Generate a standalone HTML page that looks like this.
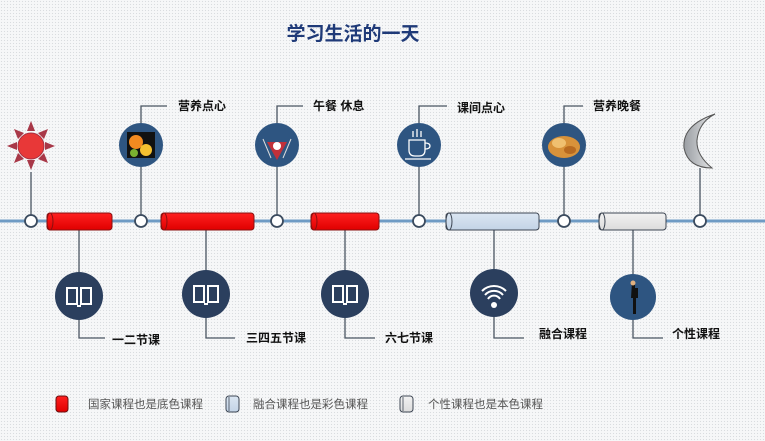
<!DOCTYPE html>
<html><head><meta charset="utf-8"><style>
html,body{margin:0;padding:0;}
body{width:765px;height:436px;overflow:hidden;background:#f6f7f8;
background-image:radial-gradient(#d9dcdf 0.6px,transparent 0.8px);background-size:3px 3px;}
text{font-family:"Liberation Sans","Noto Sans CJK SC",sans-serif;}
</style></head><body>
<svg width="765" height="436" viewBox="0 0 765 436" xmlns="http://www.w3.org/2000/svg">
<defs>
<linearGradient id="red" x1="0" y1="0" x2="0" y2="1"><stop offset="0" stop-color="#ff2020"/><stop offset="1" stop-color="#e00000"/></linearGradient>
<linearGradient id="blu" x1="0" y1="0" x2="0" y2="1"><stop offset="0" stop-color="#dbe6f2"/><stop offset="1" stop-color="#c3d3e6"/></linearGradient>
<linearGradient id="gry" x1="0" y1="0" x2="0" y2="1"><stop offset="0" stop-color="#f2f2f2"/><stop offset="1" stop-color="#dcdcdc"/></linearGradient>
<linearGradient id="moon" x1="0" y1="0" x2="1" y2="0"><stop offset="0" stop-color="#9a9ea3"/><stop offset="1" stop-color="#e8e9ea"/></linearGradient>
</defs>
<text x="353" y="40" text-anchor="middle" font-size="19" font-weight="bold" fill="#1f3a78">学习生活的一天</text>

<line x1="0" y1="221" x2="765" y2="221" stroke="#6f9bc4" stroke-width="3"/>

<g stroke="#4a5562" stroke-width="1.3" fill="none">
<line x1="31" y1="172" x2="31" y2="215"/>
<polyline points="141,167 141,215"/><polyline points="141,123 141,106 167,106"/>
<polyline points="277,167 277,215"/><polyline points="277,123 277,106 303,106"/>
<polyline points="419,167 419,215"/><polyline points="419,123 419,106 447,106"/>
<polyline points="564,167 564,215"/><polyline points="564,123 564,106 583,106"/>
<line x1="700" y1="168" x2="700" y2="215"/>
<polyline points="79,229 79,272"/><polyline points="79,320 79,338 105,338"/>
<polyline points="206,229 206,270"/><polyline points="206,318 206,338 235,338"/>
<polyline points="345,229 345,270"/><polyline points="345,318 345,338 375,338"/>
<polyline points="494,229 494,269"/><polyline points="494,317 494,338 524,338"/>
<polyline points="633,229 633,274"/><polyline points="633,320 633,338 663,338"/>
</g>

<g stroke="#8a1010" stroke-width="1">
<rect x="47" y="213" width="65" height="17" rx="3" fill="url(#red)"/>
<rect x="161" y="213" width="93" height="17" rx="3" fill="url(#red)"/>
<rect x="311" y="213" width="68" height="17" rx="3" fill="url(#red)"/>
</g>
<g fill="none" stroke="#8a1010"><ellipse cx="50" cy="221.5" rx="3" ry="8.5"/><ellipse cx="164" cy="221.5" rx="3" ry="8.5"/><ellipse cx="314" cy="221.5" rx="3" ry="8.5"/></g>
<g stroke="#3c4552" stroke-width="1">
<rect x="446" y="213" width="93" height="17" rx="3" fill="url(#blu)"/>
<rect x="599" y="213" width="67" height="17" rx="3" fill="url(#gry)"/>
</g>
<g fill="none" stroke="#3c4552"><ellipse cx="449" cy="221.5" rx="3" ry="8.5"/><ellipse cx="602" cy="221.5" rx="3" ry="8.5"/></g>

<g fill="#fff" stroke="#3a4a5e" stroke-width="1.8">
<circle cx="31" cy="221" r="6"/><circle cx="141" cy="221" r="6"/><circle cx="277" cy="221" r="6"/>
<circle cx="419" cy="221" r="6"/><circle cx="564" cy="221" r="6"/><circle cx="700" cy="221" r="6"/>
</g>

<g fill="#a83848">
<polygon points="31,121 35,131 27,131"/><polygon points="31,170 35,160 27,160"/>
<polygon points="7,146 17,142 17,150"/><polygon points="55,146 45,142 45,150"/>
<polygon points="14,129 24,133 18,139"/><polygon points="48,129 38,133 44,139"/>
<polygon points="14,163 24,159 18,153"/><polygon points="48,163 38,159 44,153"/>
</g>
<circle cx="31" cy="146" r="13" fill="#e83838" stroke="#a83040"/>

<path d="M715,114 Q682,125 684,148 Q688,168 712,168 Q696,155 697,140 Q699,122 715,114 Z" fill="url(#moon)" stroke="#555" stroke-width="1"/>

<g fill="#2e5581">
<circle cx="141" cy="145" r="22"/><circle cx="277" cy="145" r="22"/><circle cx="419" cy="145" r="22"/><circle cx="564" cy="145" r="22"/>
</g>
<rect x="127" y="132" width="28" height="26" fill="#111"/>
<circle cx="136" cy="142" r="7" fill="#f28a20"/><circle cx="146" cy="150" r="6" fill="#f5c030"/><circle cx="134" cy="153" r="4" fill="#7ab030"/>
<path d="M267,142 L277,160 L287,142 Z" fill="#c0303a"/><circle cx="277" cy="146" r="4" fill="#fff"/>
<line x1="263" y1="139" x2="271" y2="158" stroke="#ddd"/><line x1="291" y1="139" x2="283" y2="158" stroke="#ddd"/>
<g stroke="#fff" stroke-width="1.3" fill="none">
<path d="M409,140 h16 v10 q0,6 -6,6 h-4 q-6,0 -6,-6 z"/><path d="M425,143 q5,0 5,3 q0,3 -5,3"/><line x1="405" y1="159" x2="431" y2="159"/>
<line x1="413" y1="131" x2="413" y2="137"/><line x1="417" y1="129" x2="417" y2="137"/><line x1="421" y1="131" x2="421" y2="137"/>
</g>
<ellipse cx="564" cy="147" rx="16" ry="11" fill="#d8923a"/><ellipse cx="559" cy="143" rx="7" ry="5" fill="#f0c070"/><ellipse cx="570" cy="150" rx="6" ry="4" fill="#b86a20"/>

<g fill="#2b3f5e">
<circle cx="79" cy="296" r="24"/><circle cx="206" cy="294" r="24"/><circle cx="345" cy="294" r="24"/><circle cx="494" cy="293" r="24"/>
</g>
<circle cx="633" cy="297" r="23" fill="#2e5581"/>
<g fill="none" stroke="#fff" stroke-width="2">
<path d="M67,288 h10 v16 h-10 z M81,288 h10 v16 h-10 z M77,306 h4"/>
<path d="M194,286 h10 v16 h-10 z M208,286 h10 v16 h-10 z M204,304 h4"/>
<path d="M333,286 h10 v16 h-10 z M347,286 h10 v16 h-10 z M343,304 h4"/>
<path d="M482,291 a17,17 0 0 1 24,0 M485,295 a12,12 0 0 1 18,0 M488,299 a7,7 0 0 1 12,0"/>
</g>
<circle cx="494" cy="305" r="3" fill="#fff"/>
<path d="M632,282 h3 v6 h3 v10 h-2 v16 h-3 v-16 h-2 z" fill="#111"/><circle cx="633" cy="283" r="2.5" fill="#e0b080"/>

<g font-size="12" font-weight="bold" fill="#111">
<text x="178" y="110">营养点心</text>
<text x="313" y="110">午餐 休息</text>
<text x="457" y="112">课间点心</text>
<text x="593" y="110">营养晚餐</text>
<text x="112" y="344">一二节课</text>
<text x="246" y="342">三四五节课</text>
<text x="385" y="342">六七节课</text>
<text x="539" y="338">融合课程</text>
<text x="672" y="338">个性课程</text>
</g>

<rect x="56" y="396" width="12" height="16" rx="3" fill="url(#red)" stroke="#6a1010"/>
<rect x="226" y="396" width="13" height="16" rx="3" fill="url(#blu)" stroke="#3c4552"/>
<rect x="400" y="396" width="13" height="16" rx="3" fill="url(#gry)" stroke="#3c4552"/>
<line x1="229" y1="397" x2="229" y2="411" stroke="#3c4552" stroke-width="0.8"/>
<line x1="403" y1="397" x2="403" y2="411" stroke="#3c4552" stroke-width="0.8"/>
<g font-size="11.5" fill="#555">
<text x="88" y="408">国家课程也是底色课程</text>
<text x="253" y="408">融合课程也是彩色课程</text>
<text x="428" y="408">个性课程也是本色课程</text>
</g>
</svg>
</body></html>
